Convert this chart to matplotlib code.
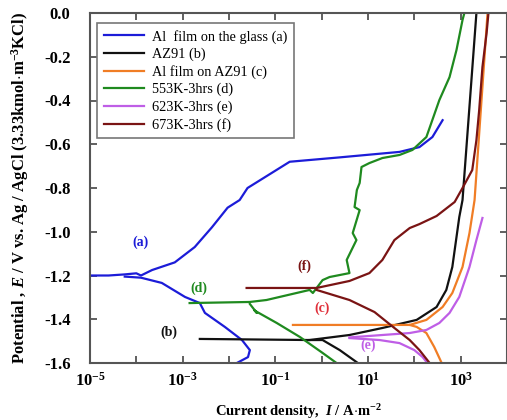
import numpy as np
import matplotlib.pyplot as plt
from matplotlib.ticker import FixedLocator, FixedFormatter

plt.rcParams['font.family'] = ['Liberation Serif', 'DejaVu Serif']
plt.rcParams['mathtext.fontset'] = 'custom'
plt.rcParams['mathtext.rm'] = 'Liberation Serif:bold'
plt.rcParams['mathtext.bf'] = 'Liberation Serif:bold'
plt.rcParams['mathtext.it'] = 'Liberation Serif:bold:italic'
plt.rcParams['mathtext.default'] = 'rm'

# polarization curves, log10(I / A m^-2) and E / V
a_an_logI = [-5.0, -4.6, -4.25, -4.0, -3.9, -3.66, -3.17, -2.74, -2.37, -2.03, -1.77, -1.6, -0.69, 0.39, 1.68, 2.11, 2.39, 2.61]
a_an_E = [-1.2, -1.2, -1.195, -1.19, -1.20, -1.175, -1.14, -1.07, -0.98, -0.89, -0.855, -0.80, -0.68, -0.66, -0.635, -0.613, -0.567, -0.49]
a_ca_logI = [-4.25, -3.9, -3.45, -2.95, -2.63, -2.52, -2.09, -1.72, -1.55, -1.59, -1.83]
a_ca_E = [-1.205, -1.21, -1.234, -1.298, -1.326, -1.371, -1.435, -1.495, -1.541, -1.573, -1.6]

b_an_logI = [-2.63, -0.26, 0.60, 1.31, 2.05, 2.48, 2.69, 2.82, 2.97, 3.04, 3.34]
b_an_E = [-1.49, -1.495, -1.472, -1.44, -1.403, -1.344, -1.266, -1.161, -0.933, -0.855, 0.0]
b_ca_logI = [-0.26, 0.02, 0.39, 0.78]
b_ca_E = [-1.495, -1.495, -1.541, -1.6]

c_an_logI = [-0.62, 1.90, 2.26, 2.61, 2.82, 3.04, 3.19, 3.30, 3.45, 3.58]
c_an_E = [-1.426, -1.426, -1.403, -1.344, -1.28, -1.161, -1.006, -0.855, -0.398, 0.0]
c_ca_logI = [1.90, 2.05, 2.26, 2.43, 2.59]
c_ca_E = [-1.426, -1.435, -1.463, -1.527, -1.6]

d_an_logI = [-2.85, -1.55, -1.19, -0.26, -0.19, 0.02, 0.17, 0.60, 0.54, 0.75, 0.67, 0.82, 0.71, 0.76, 0.82, 0.86,
             1.03, 1.31, 1.68, 1.96, 2.26, 2.54, 2.76, 2.91, 3.04, 3.08]
d_an_E = [-1.326, -1.321, -1.312, -1.266, -1.28, -1.221, -1.207, -1.189, -1.129, -1.038, -1.006, -0.901, -0.887,
          -0.809, -0.777, -0.704, -0.686, -0.663, -0.649, -0.626, -0.567, -0.398, -0.293, -0.169, -0.032, 0.0]
d_ca_logI = [-1.55, -1.40, -1.45, -0.97, -0.47, 0.02, 0.32]
d_ca_E = [-1.33, -1.371, -1.36, -1.417, -1.481, -1.554, -1.6]

e_an_logI = [0.60, 1.31, 1.90, 2.26, 2.54, 2.76, 2.97, 3.19, 3.34, 3.47]
e_an_E = [-1.483, -1.472, -1.463, -1.449, -1.417, -1.371, -1.298, -1.161, -1.038, -0.937]
e_ca_logI = [0.60, 1.25, 1.68, 2.00, 2.18, 2.28]
e_ca_E = [-1.486, -1.495, -1.509, -1.541, -1.573, -1.6]

f_an_logI = [-1.62, -0.11, 0.60, 1.03, 1.31, 1.57, 1.90, 2.11, 2.48, 2.87, 3.04, 3.25, 3.34, 3.40, 3.47, 3.56, 3.60]
f_an_E = [-1.257, -1.257, -1.225, -1.189, -1.129, -1.038, -0.983, -0.965, -0.928, -0.864, -0.80, -0.718, -0.581,
          -0.443, -0.247, -0.091, 0.0]
f_ca_logI = [-0.11, 0.60, 1.14, 1.57, 1.90, 2.11, 2.33]
f_ca_E = [-1.266, -1.312, -1.367, -1.44, -1.495, -1.541, -1.6]

names = ["Al  film on the glass (a)", "AZ91 (b)", "Al film on AZ91 (c)",
         "553K-3hrs (d)", "623K-3hrs (e)", "673K-3hrs (f)"]
colors = ["#1c1cd8", "#111111", "#f07d25", "#1f8a1f", "#bf5ee6", "#7a1414"]
tags = ["(a)", "(b)", "(c)", "(d)", "(e)", "(f)"]
tag_colors = ["#1c1cd8", "#111111", "#e0303a", "#1f8a1f", "#bf5ee6", "#7a1414"]
tag_logI = [-3.9, -3.3, 0.0, -2.65, 1.0, -0.38]
tag_E = [-1.05, -1.46, -1.35, -1.26, -1.52, -1.16]

curves = [
    (a_an_logI, a_an_E, a_ca_logI, a_ca_E),
    (b_an_logI, b_an_E, b_ca_logI, b_ca_E),
    (c_an_logI, c_an_E, c_ca_logI, c_ca_E),
    (d_an_logI, d_an_E, d_ca_logI, d_ca_E),
    (e_an_logI, e_an_E, e_ca_logI, e_ca_E),
    (f_an_logI, f_an_E, f_ca_logI, f_ca_E),
]

fig = plt.figure(figsize=(5.07, 4.2), dpi=100)
ax = fig.add_axes([90 / 507, 57 / 420, 417 / 507, 350 / 420])

for (al, ae, cl, ce), name, col in zip(curves, names, colors):
    ax.plot(10 ** np.array(al), ae, color=col, lw=1.6, label=name)
    ax.plot(10 ** np.array(cl), ce, color=col, lw=1.6)

for t, c, x, y in zip(tags, tag_colors, tag_logI, tag_E):
    ax.text(10 ** x, y, t, color=c, fontsize=10, fontweight='bold', ha='center', va='center')

ax.set_xscale('log')
ax.set_xlim(1e-5, 1e4)
ax.set_ylim(-1.6, 0.0)

xt = [10.0 ** k for k in range(-5, 5)]
xl = [r"$10^{%d}$" % k if k in (-5, -3, -1, 1, 3) else "" for k in range(-5, 5)]
ax.xaxis.set_major_locator(FixedLocator(xt))
ax.xaxis.set_major_formatter(FixedFormatter(xl))
ax.xaxis.set_minor_locator(FixedLocator([]))
yt = [-1.6, -1.4, -1.2, -1.0, -0.8, -0.6, -0.4, -0.2, 0.0]
ax.set_yticks(yt)
ax.set_yticklabels(["-1.6", "-1.4", "-1.2", "-1.0", "-0.8", "-0.6", "-0.4", "-0.2", "0.0"])

ax.tick_params(direction='in', top=True, right=True, length=5, width=1.2, color='#444444',
               labelsize=12)
ax.tick_params(axis='x', pad=6)
ax.tick_params(axis='y', pad=14)
for lab in ax.get_yticklabels():
    lab.set_fontweight('bold')
for sp in ax.spines.values():
    sp.set_color('#555555')
    sp.set_linewidth(1.5)

ax.set_xlabel(r"Current density,  $\mathit{I}$ / A$\cdot$m$^{-2}$", fontsize=10.5, fontweight='bold', labelpad=9)
ax.set_ylabel(r"Potential , $\mathit{E}$ / V vs. Ag / AgCl (3.33kmol$\cdot$m$^{-3}$KCl)",
              fontsize=12, fontweight='bold', labelpad=9)

leg = ax.legend(loc='upper left', bbox_to_anchor=(0.017, 0.971), borderaxespad=0, fontsize=10.3,
                fancybox=False, framealpha=1, edgecolor='#777777', handlelength=2.8, labelspacing=0.28,
                borderpad=0.45, handletextpad=0.6)
leg.get_frame().set_linewidth(1.2)

fig.savefig("out.png", dpi=100)
